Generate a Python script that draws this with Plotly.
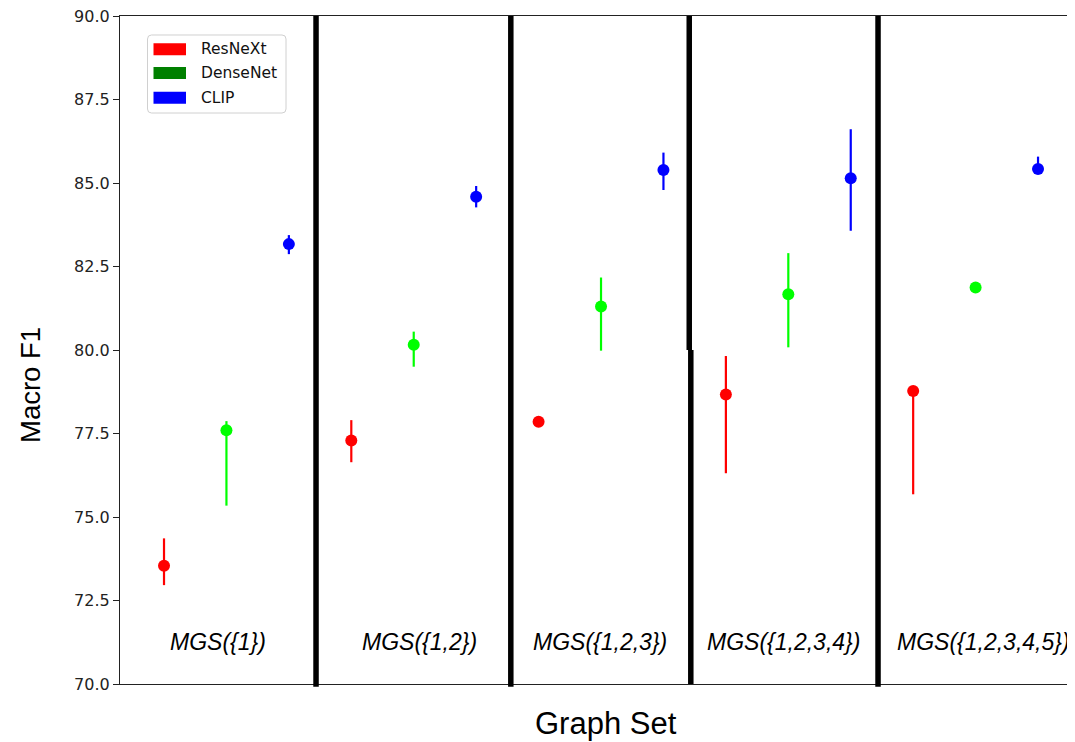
import numpy as np
import plotly.graph_objects as go

# ---------------- data ----------------
groups = ["MGS({1})", "MGS({1,2})", "MGS({1,2,3})", "MGS({1,2,3,4})", "MGS({1,2,3,4,5})"]
models = ["ResNeXt", "DenseNet", "CLIP"]

resnext_mean = [73.54, 77.29, 77.85, 78.67, 78.77]
resnext_high = [74.36, 77.90, 77.85, 79.82, 78.77]
resnext_low = [72.96, 76.64, 77.85, 76.31, 75.68]

densenet_mean = [77.60, 80.16, 81.30, 81.67, 81.87]
densenet_high = [77.87, 80.55, 82.17, 82.90, 81.87]
densenet_low = [75.34, 79.50, 79.98, 80.08, 81.87]

clip_mean = [83.17, 84.59, 85.39, 85.14, 85.42]
clip_high = [83.44, 84.91, 85.91, 86.61, 85.79]
clip_low = [82.87, 84.27, 84.79, 83.57, 85.29]

y_ticks = [70.0, 72.5, 75.0, 77.5, 80.0, 82.5, 85.0, 87.5, 90.0]

# ---------------- layout helpers (positions / styles) ----------------
OFF = 8  # browser body margin
W, H = 1075 - OFF, 742 - OFF
# plot area in screenshot pixels
SL, SR, ST, SB = 120, 1075, 16, 684
L, R, T, B = SL - OFF, SR - OFF, ST - OFF, SB - OFF

def px(x):
    return (x - SL) / (SR - SL)

def py(y):
    return (SB - y) / (SB - ST)

marker_colors = ["#ff0000", "#00ff00", "#0000ff"]
legend_colors = ["#ff0000", "#008000", "#0000ff"]
separator_x = [2.435, 5.555, 11.437]
split_separator = (8.413, 8.438, 80.0)  # top-x, bottom-x, break y
label_x = [0.857, 4.10, 6.98, 9.92, 13.13]
label_y = 71.26

series = [
    (resnext_mean, resnext_high, resnext_low),
    (densenet_mean, densenet_high, densenet_low),
    (clip_mean, clip_high, clip_low),
]

fig = go.Figure()
n_models = len(models)
for k, (name, (mean, hi, lo)) in enumerate(zip(models, series)):
    mean = np.array(mean)
    xs = np.arange(len(groups)) * n_models + k
    fig.add_trace(go.Scatter(
        x=xs, y=mean, mode="markers", name=name, showlegend=False,
        marker=dict(color=marker_colors[k], size=12, line=dict(width=0)),
        error_y=dict(type="data", symmetric=False,
                     array=np.array(hi) - mean, arrayminus=mean - np.array(lo),
                     color=marker_colors[k], thickness=2.2, width=0),
    ))

shapes = []
for sx in separator_x:
    shapes.append(dict(type="line", xref="x", yref="paper", x0=sx, x1=sx, y0=-0.004, y1=1,
                       line=dict(color="black", width=5.5), layer="above"))
tx, bx, by = split_separator
shapes.append(dict(type="line", xref="x", yref="y", x0=tx, x1=tx, y0=by, y1=90,
                   line=dict(color="black", width=5.5), layer="above"))
shapes.append(dict(type="line", xref="x", yref="y", x0=bx, x1=bx, y0=69.9, y1=by,
                   line=dict(color="black", width=5.5), layer="above"))

# custom legend box with rounded corners
bx0, bx1, by0, by1, rr = 147.5, 286, 35, 113, 4
def P(x, y):
    return f"{px(x):.6f},{py(y):.6f}"
path = (f"M {P(bx0 + rr, by0)} L {P(bx1 - rr, by0)} Q {P(bx1, by0)} {P(bx1, by0 + rr)} "
        f"L {P(bx1, by1 - rr)} Q {P(bx1, by1)} {P(bx1 - rr, by1)} "
        f"L {P(bx0 + rr, by1)} Q {P(bx0, by1)} {P(bx0, by1 - rr)} "
        f"L {P(bx0, by0 + rr)} Q {P(bx0, by0)} {P(bx0 + rr, by0)} Z")
shapes.append(dict(type="path", xref="paper", yref="paper", path=path,
                   fillcolor="white", line=dict(color="#d0d0d0", width=1), layer="above"))
annotations = []
row_y = [49.3, 73.0, 97.7]
for k, name in enumerate(models):
    yc = row_y[k]
    shapes.append(dict(type="rect", xref="paper", yref="paper",
                       x0=px(153.5), x1=px(186), y0=py(yc - 6), y1=py(yc + 6),
                       fillcolor=legend_colors[k], line=dict(width=0), layer="above"))
    annotations.append(dict(xref="paper", yref="paper", x=px(199), y=py(yc), text=name,
                            showarrow=False, xanchor="left", yanchor="middle",
                            font=dict(family="DejaVu Sans", size=15.5, color="#111")))

for g, lx in zip(groups, label_x):
    annotations.append(dict(xref="x", yref="y", x=lx, y=label_y, text=f"<i>{g}</i>",
                            showarrow=False, xanchor="center", yanchor="middle",
                            font=dict(family="Liberation Sans", size=23, color="black")))

annotations.append(dict(xref="paper", yref="paper", x=px(606), y=py(723), text="Graph Set",
                        showarrow=False, xanchor="center", yanchor="middle",
                        font=dict(family="Liberation Sans", size=31, color="black")))
annotations.append(dict(xref="paper", yref="paper", x=px(30), y=py(385), text="Macro F1",
                        showarrow=False, xanchor="center", yanchor="middle", textangle=-90,
                        font=dict(family="Liberation Sans", size=27.5, color="black")))

x_left = -0.705
x_scale = 62.43  # px per unit
x_right = x_left + (SR - SL) / x_scale

fig.update_layout(
    width=W, height=H, autosize=False,
    margin=dict(l=L, r=W - R, t=T, b=H - B, pad=0),
    paper_bgcolor="white", plot_bgcolor="white",
    showlegend=False,
    shapes=shapes, annotations=annotations,
    xaxis=dict(range=[x_left, x_right], showgrid=False, zeroline=False,
               showline=True, linecolor="#222", linewidth=1.2, mirror=True,
               showticklabels=False, ticks=""),
    yaxis=dict(range=[69.9999, 90.0001], tickvals=y_ticks, ticktext=[f"{v:.1f}" for v in y_ticks],
               showgrid=False, zeroline=False, showline=True, linecolor="#222", linewidth=1.2,
               ticks="outside", ticklen=6, tickwidth=1, tickcolor="#222",
               ticklabeloverflow="allow",
               tickfont=dict(family="DejaVu Sans", size=16, color="#222")),
)

fig.write_html("out.html")
